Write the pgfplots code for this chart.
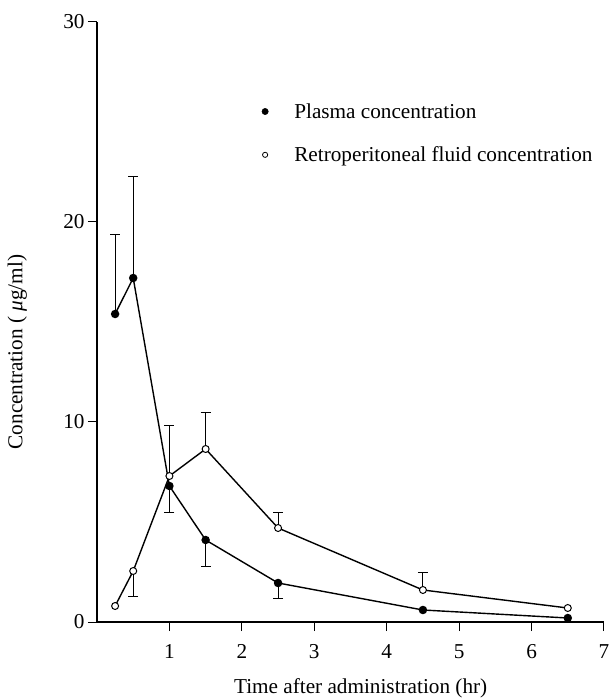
\documentclass[border=0pt]{standalone}
\usepackage{pgfplots}
\pgfplotsset{compat=1.18}
\usepackage{fontspec}
\setmainfont{Liberation Serif}
\newcommand\fs{\fontsize{21.3}{25}\selectfont}
\begin{document}
\begin{tikzpicture}
\begin{axis}[
  scale only axis, width=507bp, height=600bp,
  xmin=0, xmax=7, ymin=0, ymax=30,
  axis x line=bottom, axis y line=left,
  axis line style={-, line width=1.3bp},
  xtick={1,...,7}, ytick={0,10,20,30},
  tick align=outside, major tick length=9bp,
  tick style={line width=1bp, black},
  /pgf/number format/assume math mode=true,
  tick label style={font=\fs},
  xticklabel style={yshift=-10bp},
  xlabel={Time after administration (hr)},
  ylabel={Concentration ( \textit{μ}g/ml)},
  every axis x label/.style={at={(axis description cs:0.52,0)}, anchor=center, yshift=-66bp, font=\fs},
  every axis y label/.style={at={(axis description cs:-0.157,0.45)}, anchor=center, rotate=90, font=\fs},
  clip=false,
  legend style={draw=none, fill=none, font=\fs, at={(axis description cs:0.319,0.868)}, anchor=north west,
    row sep=27bp, column sep=26bp, nodes={inner sep=0pt, anchor=west}},
  legend cell align=left,
  legend image code/.code={\draw[#1] plot coordinates {(0bp,0bp)};},
]
% error bars (one-sided)
\addplot[draw=none, forget plot, error bars/.cd, y dir=plus, y explicit,
  error bar style={line width=0.9bp, black}, error mark options={line width=0.9bp, black, mark size=5bp, rotate=90}]
  coordinates {(0.25,15.4) +- (0,4.0) (0.5,17.2) +- (0,5.1)};
\addplot[draw=none, forget plot, error bars/.cd, y dir=minus, y explicit,
  error bar style={line width=0.9bp, black}, error mark options={line width=0.9bp, black, mark size=5bp, rotate=90}]
  coordinates {(1,6.8) +- (0,1.3) (1.5,4.1) +- (0,1.3) (2.5,1.95) +- (0,0.75)};
\addplot[draw=none, forget plot, error bars/.cd, y dir=minus, y explicit,
  error bar style={line width=0.9bp, black}, error mark options={line width=0.9bp, black, mark size=5bp, rotate=90}]
  coordinates {(0.5,2.55) +- (0,1.25)};
\addplot[draw=none, forget plot, error bars/.cd, y dir=plus, y explicit,
  error bar style={line width=0.9bp, black}, error mark options={line width=0.9bp, black, mark size=5bp, rotate=90}]
  coordinates {(1,7.3) +- (0,2.55) (1.5,8.65) +- (0,1.85) (2.5,4.7) +- (0,0.8) (4.5,1.6) +- (0,0.9)};
% plasma
\addplot[forget plot, black, line width=1.4bp, mark=*, mark size=3.5bp, mark options={fill=black, solid}]
  coordinates {(0.25,15.4) (0.5,17.2) (1,6.8) (1.5,4.1) (2.5,1.95) (4.5,0.6) (6.5,0.2)};
% retroperitoneal
\addplot[forget plot, black, line width=1.4bp, mark=*, mark size=3.5bp, mark options={fill=white, line width=1bp, solid}]
  coordinates {(0.25,0.8) (0.5,2.55) (1,7.3) (1.5,8.65) (2.5,4.7) (4.5,1.6) (6.5,0.7)};
\addlegendimage{only marks, mark=*, mark size=3.2bp, black, mark options={fill=black}}
\addlegendentry{Plasma concentration}
\addlegendimage{only marks, mark=*, mark size=2.6bp, black, mark options={fill=white, line width=0.8bp}}
\addlegendentry{Retroperitoneal fluid concentration}
\end{axis}
\pgfresetboundingbox
\path[use as bounding box] (-97bp,-78bp) rectangle (512bp,622bp);
\end{tikzpicture}
\end{document}
